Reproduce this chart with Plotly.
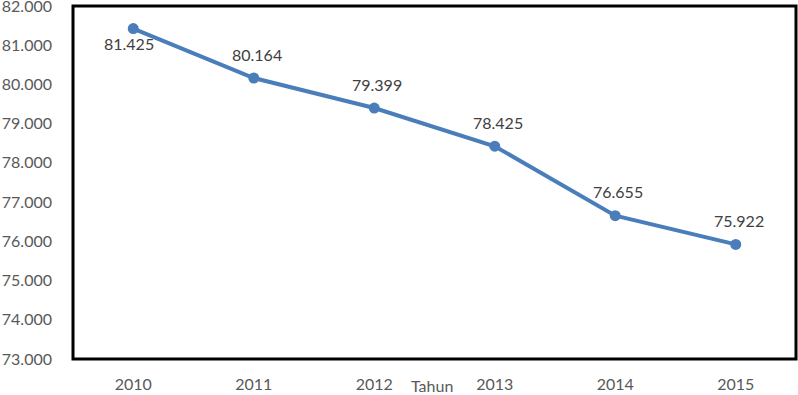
import plotly.graph_objects as go

years = ["2010", "2011", "2012", "2013", "2014", "2015"]
values = [81.425, 80.164, 79.399, 78.425, 76.655, 75.922]
labels = ["81.425", "80.164", "79.399", "78.425", "76.655", "75.922"]
y_ticks = [73, 74, 75, 76, 77, 78, 79, 80, 81, 82]
x_title = "Tahun"

FONT = "Lato, Calibri, Carlito, sans-serif"
BLUE = "#4A7EBB"

fig = go.Figure()
fig.add_trace(go.Scatter(
    x=years, y=values, mode="lines+markers",
    line=dict(color=BLUE, width=4),
    marker=dict(color=BLUE, size=11),
    hoverinfo="x+y", showlegend=False,
))

annotations = []
for i, (v, lab) in enumerate(zip(values, labels)):
    below = (i == 0)
    annotations.append(dict(
        x=i, y=v, xref="x", yref="y", text=lab, showarrow=False,
        xshift=-4 if below else 3, yshift=-15 if below else 24,
        font=dict(family=FONT, size=16, color="#404040"),
    ))
annotations.append(dict(
    x=0.497, y=0, xref="paper", yref="paper", yanchor="top",
    yshift=-15, text=x_title, showarrow=False,
    font=dict(family=FONT, size=16, color="#595959"),
))

fig.update_layout(
    width=798, height=395,
    margin=dict(l=73, r=2, t=6, b=36),
    paper_bgcolor="white", plot_bgcolor="white",
    annotations=annotations,
    shapes=[dict(type="rect", xref="paper", yref="paper", x0=0, y0=0, x1=1, y1=1,
                 line=dict(color="black", width=3))],
    xaxis=dict(
        type="category", showgrid=False, zeroline=False, showline=False,
        ticks="", ticklabelstandoff=14, automargin=False,
        tickfont=dict(family=FONT, size=16, color="#595959"),
        range=[-0.5, 5.5],
    ),
    yaxis=dict(
        range=[73, 82], tickvals=y_ticks, tickformat=".3f",
        showgrid=False, zeroline=False, showline=False, ticks="",
        ticklabelstandoff=20, ticklabeloverflow="allow", automargin=False,
        tickfont=dict(family=FONT, size=16, color="#595959"),
    ),
)

fig.write_html("out.html", config={"displayModeBar": False},
               post_script="document.body.style.margin='0';")
